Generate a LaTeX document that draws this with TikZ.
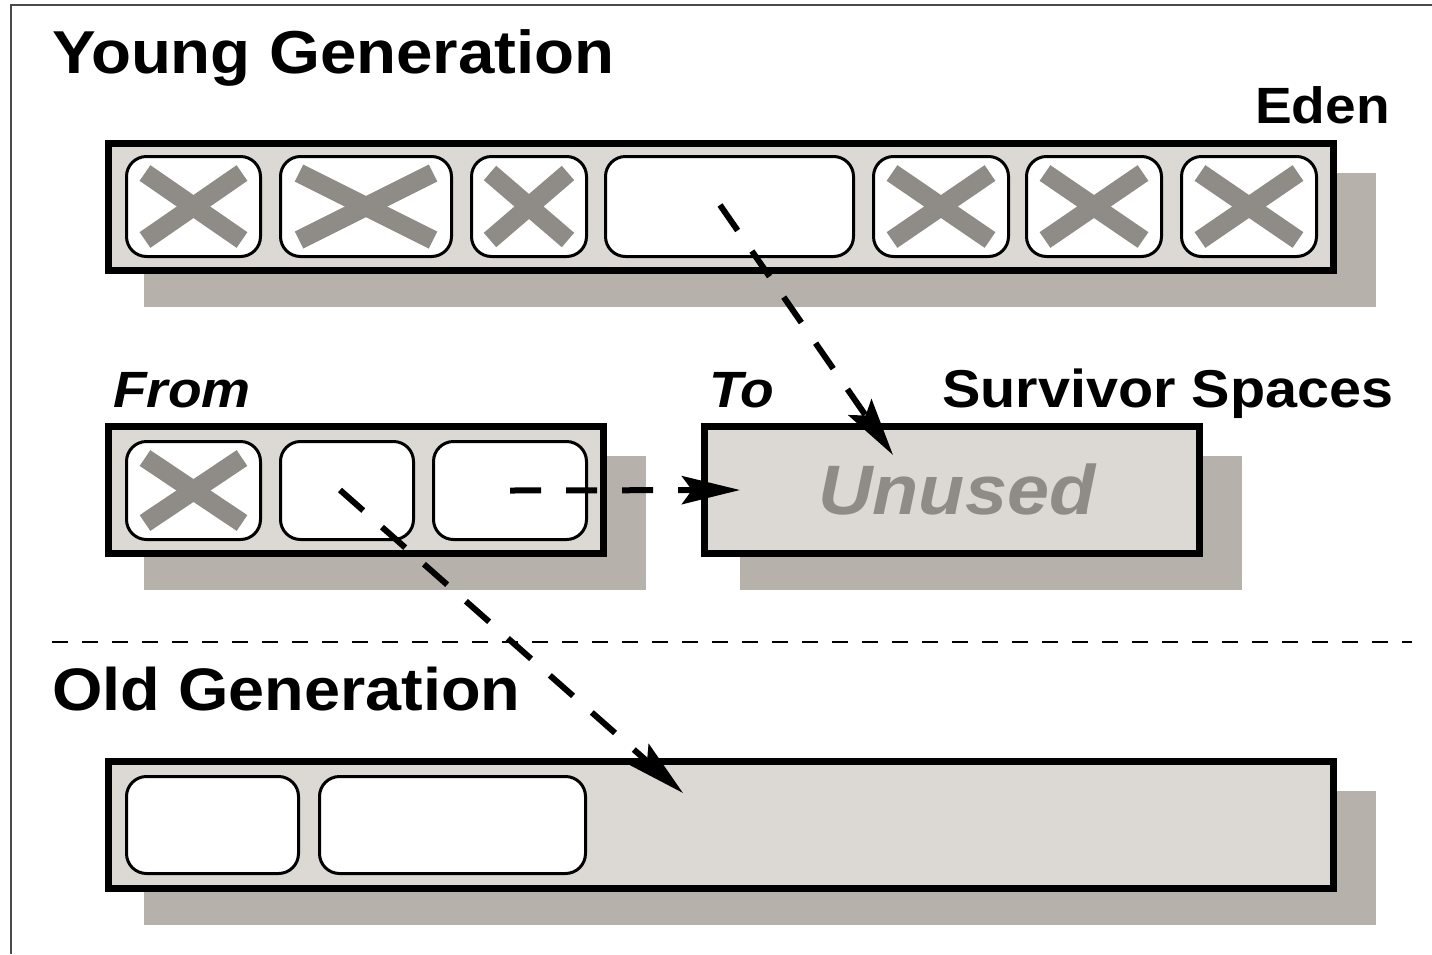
\documentclass[tikz,border=0pt]{standalone}
\usepackage{fontspec}
\setmainfont{Liberation Sans}[FakeStretch=1.08]
\usetikzlibrary{arrows.meta,calc,shadows}
\definecolor{boxfill}{HTML}{DCD9D4}
\definecolor{shadowfill}{HTML}{B6B1AB}
\definecolor{crossgray}{HTML}{8F8C87}
\definecolor{framegray}{HTML}{4A4A4A}

% grey X drawn over a cell node
\newcommand{\crossout}[1]{%
  \draw[crossmark] ($(#1.north west)+(20,18)$) -- ($(#1.south east)+(-20,-18)$);
  \draw[crossmark] ($(#1.south west)+(20,-18)$) -- ($(#1.north east)+(-20,18)$);
}

\begin{document}
\begin{tikzpicture}[x=1pt,y=-1pt,
  region/.style={rectangle, draw=black, line width=7pt, fill=boxfill, inner sep=0pt,
    minimum height=127pt,
    drop shadow={shadow xshift=39pt, shadow yshift=-33pt, fill=shadowfill,
      draw=shadowfill, line width=7pt, opacity=1}},
  cell/.style={rectangle, draw=black, line width=3pt, fill=white, rounded corners=20pt, inner sep=0pt},
  crossmark/.style={draw=crossgray, line width=19pt},
  lbl/.style={inner sep=0pt, anchor=base west},
  title/.style={lbl, font=\fontsize{60.6}{72}\selectfont\bfseries},
  tag/.style={lbl, font=\fontsize{51}{60}\selectfont\bfseries},
  itag/.style={lbl, font=\fontsize{51}{60}\selectfont\bfseries\itshape},
  flow/.style={line width=6pt, dash pattern=on 31pt off 25pt,
    -{Stealth[length=58pt, width=28pt, inset=10pt]}},
  separator/.style={line width=2.5pt, dash pattern=on 16pt off 14pt}
]
\useasboundingbox (0,0) rectangle (1432,954);

% outer frame (only its top and left sides fall inside the page)
\draw[framegray, line width=2pt] (11,954) -- (11,5) -- (1432,5);

% labels
\node[title] (young) at (52,73) {Young Generation};
\node[tag] (edenlbl) at (1255,123) {Eden};
\node[itag] (fromlbl) at (113,407) {From};
\node[itag] (tolbl) at (709,407) {To};
\node[tag, font=\fontsize{53.3}{60}\selectfont\bfseries] (survlbl) at (942,407) {Survivor Spaces};
\node[title, font=\fontsize{60}{72}\selectfont\bfseries] (oldlbl) at (52,710) {Old Generation};

% Eden space
\node[region, minimum width=1225pt] (eden) at (721,207) {};
\node[cell, minimum width=134pt, minimum height=100pt] (e1) at (193.5,206.5) {};
\node[cell, minimum width=171pt, minimum height=100pt] (e2) at (366,206.5) {};
\node[cell, minimum width=115pt, minimum height=100pt] (e3) at (529,206.5) {};
\node[cell, minimum width=248pt, minimum height=100pt] (e4) at (729.5,206.5) {};
\node[cell, minimum width=135pt, minimum height=100pt] (e5) at (941,206.5) {};
\node[cell, minimum width=135pt, minimum height=100pt] (e6) at (1094,206.5) {};
\node[cell, minimum width=135pt, minimum height=100pt] (e7) at (1249,206.5) {};
\crossout{e1}\crossout{e2}\crossout{e3}\crossout{e5}\crossout{e6}\crossout{e7}

% survivor spaces
\node[region, minimum width=495pt] (from) at (356,490) {};
\node[cell, minimum width=134pt, minimum height=98pt] (f1) at (193.5,490.5) {};
\node[cell, minimum width=133pt, minimum height=98pt] (f2) at (347,490.5) {};
\node[cell, minimum width=153pt, minimum height=98pt] (f3) at (510,490.5) {};
\crossout{f1}

\node[region, minimum width=495pt] (to) at (952,490) {};
\node[lbl, text=crossgray, font=\fontsize{70}{80}\selectfont\bfseries\itshape] (unused) at (818,514) {Unused};

% generation boundary
\coordinate (sepL) at (52,642);
\coordinate (sepR) at (1412,642);
\draw[separator] (sepL) -- (sepR);

% old generation
\node[region, minimum width=1225pt] (old) at (721,825) {};
\node[cell, minimum width=172pt, minimum height=97pt] (o1) at (212.5,825) {};
\node[cell, minimum width=266pt, minimum height=97pt] (o2) at (452.5,825) {};

% copying of live objects
\coordinate (edenlive) at (720,205);
\coordinate (toin) at (893,455);
\coordinate (toleft) at (740,490);
\coordinate (fromlive) at (340,490);
\coordinate (oldin) at (683,793);
\draw[flow] (edenlive) -- (toin);
\draw[flow] (f3.center) -- (toleft);
\draw[flow] (fromlive) -- (oldin);
\end{tikzpicture}
\end{document}
